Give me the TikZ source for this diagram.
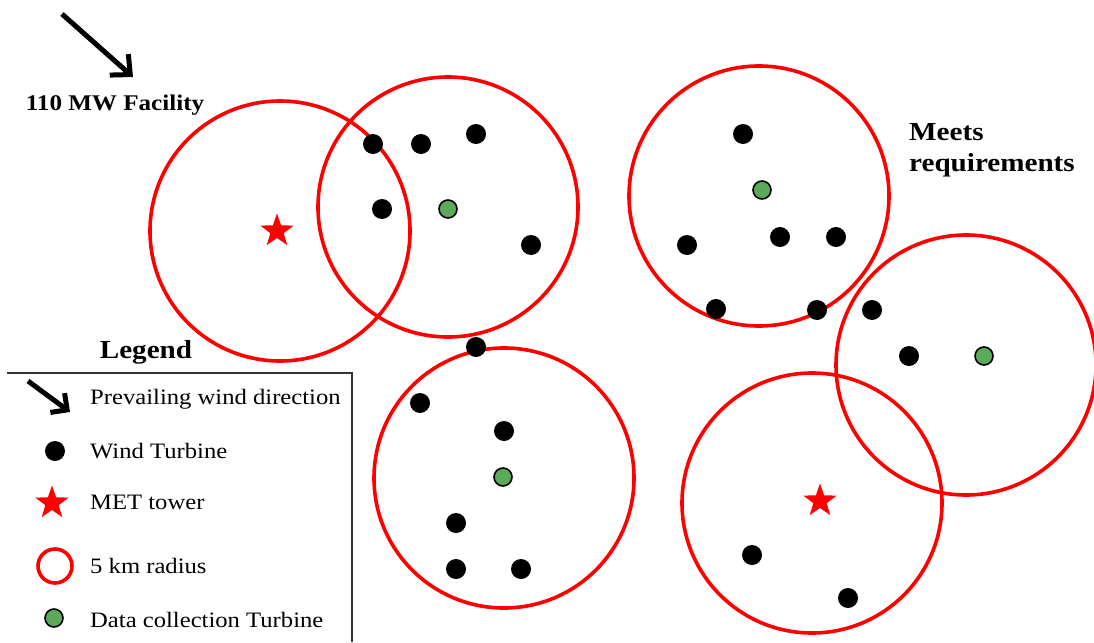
\documentclass[tikz,border=0pt]{standalone}
\usepackage{fontspec}
\setmainfont[FakeStretch=1.12]{Liberation Serif}
\usetikzlibrary{shapes.geometric,arrows.meta}
\tikzset{
  radius5/.style={draw=red, line width=3.6pt, circle, minimum size=260pt, inner sep=0pt},
  turbine/.style={fill=black, circle, minimum size=20pt, inner sep=0pt},
  datat/.style={draw=black, line width=1.6pt, fill=dgreen, circle, minimum size=18pt, inner sep=0pt},
  met/.style={star, star points=5, star point ratio=2.5, fill=red, minimum size=35pt, inner sep=0pt},
  windarrow/.style={line width=5pt, -{Straight Barb[length=15pt, width=28pt, line width=5pt]}},
  legtext/.style={font=\fontsize{22}{26}\selectfont, anchor=west, inner sep=0pt},
}
\definecolor{dgreen}{RGB}{90,170,90}
\begin{document}
\begin{tikzpicture}[x=1pt, y=-1pt]
\useasboundingbox (0,0) rectangle (1094,642);

% wind direction arrow and facility label
\coordinate (wtail) at (62,14);
\coordinate (whead) at (133,77);
\draw[windarrow] (wtail) -- (whead);
\node[font=\fontsize{22.4}{26}\selectfont\bfseries] (facility) at (115,105) {110 MW Facility};

% 5 km radius circles
\node[radius5] (c1) at (280,231) {};
\node[radius5] (c2) at (448,207) {};
\node[radius5] (c3) at (759,196) {};
\node[radius5] (c4) at (966,365) {};
\node[radius5] (c5) at (504,478) {};
\node[radius5] (c6) at (812,503) {};

% MET towers
\node[met] (m1) at (277,231) {};
\node[met] (m2) at (820,501) {};

% wind turbines
\node[turbine] (t1) at (373,144) {};
\node[turbine] (t2) at (421,144) {};
\node[turbine] (t3) at (476,134) {};
\node[turbine] (t4) at (382,209) {};
\node[turbine] (t5) at (531,245) {};
\node[turbine] (t6) at (743,134) {};
\node[turbine] (t7) at (687,245) {};
\node[turbine] (t8) at (780,237) {};
\node[turbine] (t9) at (836,237) {};
\node[turbine] (t10) at (716,309) {};
\node[turbine] (t11) at (817,310) {};
\node[turbine] (t12) at (872,310) {};
\node[turbine] (t13) at (909,356) {};
\node[turbine] (t14) at (476,347) {};
\node[turbine] (t15) at (420,403) {};
\node[turbine] (t16) at (504,431) {};
\node[turbine] (t17) at (456,523) {};
\node[turbine] (t18) at (456,569) {};
\node[turbine] (t19) at (521,569) {};
\node[turbine] (t20) at (752,555) {};
\node[turbine] (t21) at (848,598) {};

% data collection turbines
\node[datat] (d1) at (448,209) {};
\node[datat] (d2) at (762,190) {};
\node[datat] (d3) at (984,356) {};
\node[datat] (d4) at (503,477) {};

% status label
\node[font=\fontsize{26}{31}\selectfont\bfseries, anchor=north west, align=left, inner sep=0pt] (meets) at (909,123) {Meets\\requirements};

% legend
\node[font=\fontsize{26}{30}\selectfont\bfseries] (legtitle) at (146,352) {Legend};
\coordinate (boxtl) at (7,373);
\coordinate (boxtr) at (352,373);
\coordinate (boxbr) at (352,642);
\draw[line width=1.6pt, black!80] (boxtl) -- (boxtr) -- (boxbr);

\coordinate (latail) at (28,381);
\coordinate (lahead) at (70,412);
\draw[line width=5pt, -{Straight Barb[length=12pt, width=24pt, line width=5pt]}] (latail) -- (lahead);
\node[legtext] (l1) at (90,399) {Prevailing wind direction};
\node[turbine] (lt) at (55,451) {};
\node[legtext] (l2) at (90,451) {Wind Turbine};
\node[met] (lm) at (52,503) {};
\node[legtext] (l3) at (90,502) {MET tower};
\node[draw=red, line width=3.6pt, circle, minimum size=34pt, inner sep=0pt] (lc) at (55,566) {};
\node[legtext] (l4) at (90,566) {5 km radius};
\node[datat] (ld) at (54,618) {};
\node[legtext] (l5) at (90,620) {Data collection Turbine};
\end{tikzpicture}
\end{document}
